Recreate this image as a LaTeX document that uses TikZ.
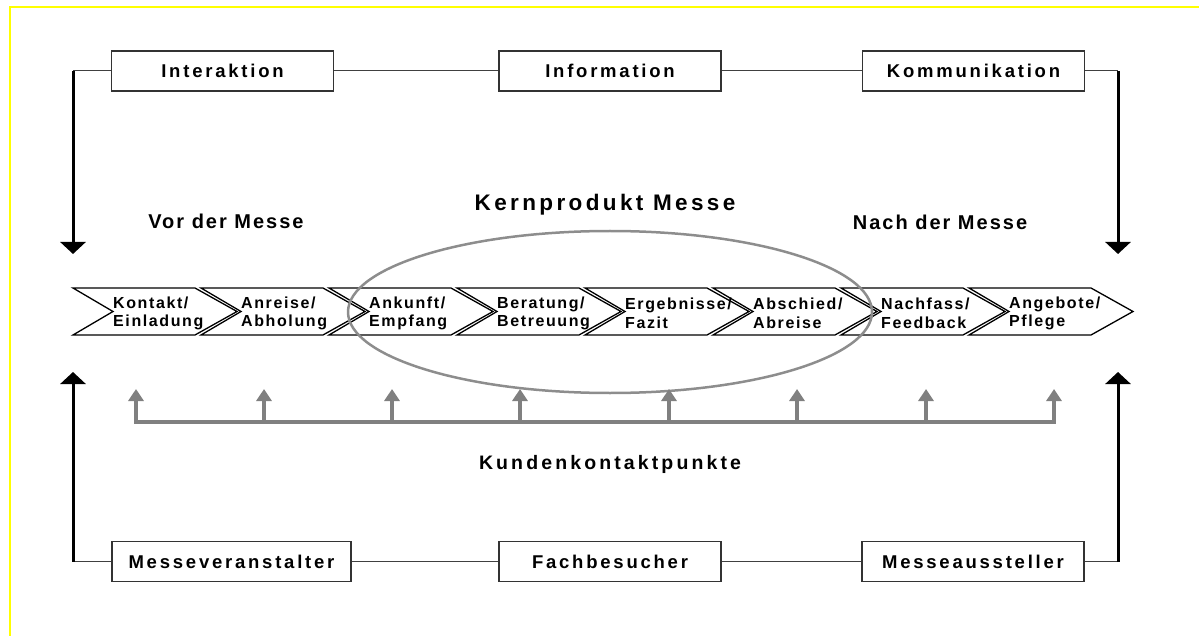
\documentclass[tikz,border=0pt]{standalone}
\usepackage{fontspec}
\setmainfont{Liberation Sans}
\newfontfamily\lblfont{Liberation Sans}[LetterSpace=10]
\usetikzlibrary{arrows.meta}

\definecolor{kpgrau}{HTML}{808080}
\definecolor{rahmengelb}{HTML}{FFFF00}

\tikzset{
  rolle/.style={draw=black!80, line width=1.2pt, inner sep=0pt, minimum width=222,
    minimum height=40, font=\lblfont\bfseries\fontsize{18.5}{21}\selectfont\addfontfeature{LetterSpace=15}},
  verbind/.style={draw=black!75, line width=1pt},
  pfeil/.style={line width=3pt, -{Triangle[width=25pt,length=12pt]}},
  stufe/.style={draw=black, line width=1.3pt, line join=miter},
  stufetext/.style={anchor=west, inner sep=0pt, align=left,
    font=\lblfont\bfseries\fontsize{16}{18.5}\selectfont},
  phase/.style={inner sep=0pt, font=\lblfont\bfseries\fontsize{20}{23}\selectfont},
  kparrow/.style={kpgrau, line width=4.5pt, -{Triangle[width=15pt,length=12pt]}}
}

\begin{document}
\begin{tikzpicture}[x=1pt, y=-1pt]
    \useasboundingbox (0,0) rectangle (1199,636);
    % Frame
    \draw[rahmengelb, line width=2pt] (10,660) -- (10,7) -- (1230,7);

    % Top row: Interaktion / Information / Kommunikation
    \node[rolle] (inter) at (222.5,71) {Interaktion};
    \node[rolle] (info) at (610,71) {Information};
    \node[rolle] (komm) at (973.5,71) {Kommunikation};
    \coordinate (tl) at (73,71);
    \coordinate (tr) at (1118,71);
    \coordinate (tlend) at (73,254);
    \coordinate (trend) at (1118,254);
    \draw[verbind] (tl) -- (inter.west);
    \draw[verbind] (inter.east) -- (info.west);
    \draw[verbind] (info.east) -- (komm.west);
    \draw[verbind] (komm.east) -- (tr);
    \draw[pfeil] (tl) -- (tlend);
    \draw[pfeil] (tr) -- (trend);

    % Phases
    \node[phase] (vor) at (226,221) {Vor der Messe};
    \node[phase] (nach) at (940,222) {Nach der Messe};
    \node[phase, font=\lblfont\bfseries\fontsize{22.5}{26}\selectfont\addfontfeature{LetterSpace=15}]
      (kern) at (605,205) {Kernprodukt Messe};

    % Process chain
    \foreach \txt [count=\i] in {{Kontakt/\\Einladung}, {Anreise/\\Abholung},
        {Ankunft/\\Empfang}, {Beratung/\\Betreuung}, {Ergebnisse/\\Fazit},
        {Abschied/\\Abreise}, {Nachfass/\\Feedback}, {Angebote/\\Pflege}} {
        \pgfmathsetmacro\xa{73+128*(\i-1)}
        \draw[stufe] (\xa,288) -- ++(122,0) -- ++(42,23.5) -- ++(-42,23.5)
          -- ++(-122,0) -- ++(40,-23.5) -- cycle;
        \node[stufetext] (s\i) at (\xa+40,313.5) {\txt};
    }

    % Core product
    \draw[kpgrau!90!white, line width=2.5pt] (610,312) ellipse [x radius=262, y radius=81];

    % Customer contact points
    \foreach \x [count=\i] in {136,264,392,520,669,797,926,1054}
        \coordinate (kp\i) at (\x,389);
    \draw[kparrow, {Triangle[width=15pt,length=12pt]}-{Triangle[width=15pt,length=12pt]}]
      (kp1) -- (136,422) -| (kp8);
    \foreach \x [count=\i from 2] in {264,392,520,669,797,926}
        \draw[kparrow] (\x,422) -- (kp\i);
    \node[phase, font=\lblfont\bfseries\fontsize{19.5}{23}\selectfont\addfontfeature{LetterSpace=16}]
      (kunden) at (610,464) {Kundenkontaktpunkte};

    % Bottom row: Messeveranstalter / Fachbesucher / Messeaussteller
    \node[rolle, minimum width=239] (veran) at (231.5,561.5) {Messeveranstalter};
    \node[rolle] (besuch) at (610,561.5) {Fachbesucher};
    \node[rolle] (aussteller) at (973,561.5) {Messeaussteller};
    \coordinate (bl) at (73,561.5);
    \coordinate (br) at (1118,561.5);
    \coordinate (blend) at (73,372);
    \coordinate (brend) at (1118,372);
    \draw[verbind] (bl) -- (veran.west);
    \draw[verbind] (veran.east) -- (besuch.west);
    \draw[verbind] (besuch.east) -- (aussteller.west);
    \draw[verbind] (aussteller.east) -- (br);
    \draw[pfeil] (bl) -- (blend);
    \draw[pfeil] (br) -- (brend);
\end{tikzpicture}
\end{document}
